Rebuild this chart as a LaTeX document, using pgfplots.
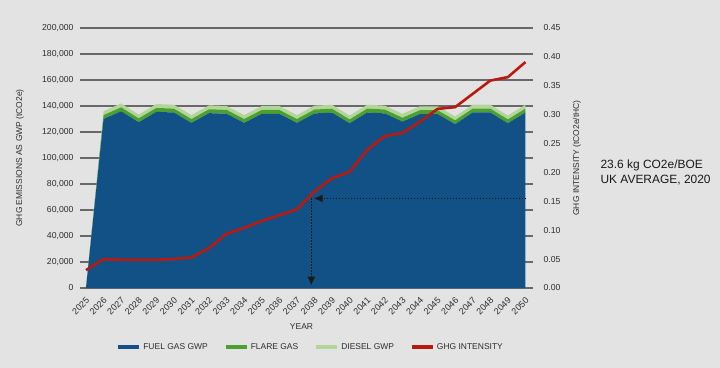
\documentclass[border=0pt]{standalone}
\usepackage{pgfplots}
\pgfplotsset{compat=1.18}
\usepackage{pgfplotstable}
\usepackage{fontspec}
\setmainfont{Liberation Sans}
\usetikzlibrary{arrows.meta}
\definecolor{bg}{RGB}{227,227,227}
\definecolor{fuel}{RGB}{17,81,134}
\definecolor{flare}{RGB}{76,160,50}
\definecolor{diesel}{RGB}{178,214,152}
\definecolor{ghg}{RGB}{185,25,15}
\definecolor{gridc}{RGB}{105,105,105}
\definecolor{txt}{RGB}{45,45,45}

\pgfplotstableread{
year fuel flare diesel
2025 0 0 0
2026 130000 3000 3000
2027 136000 3000 3000
2028 127500 3000 3000
2029 135500 3000 3000
2030 135000 3000 3000
2031 127000 3000 3000
2032 134500 3000 3000
2033 134000 3000 3000
2034 127000 3000 3000
2035 134000 3000 3000
2036 134000 3000 3000
2037 127000 3000 3000
2038 134300 3000 3000
2039 134900 3000 3000
2040 126700 3000 3000
2041 135000 3000 3000
2042 134300 3000 3000
2043 128000 3000 3000
2044 133800 3000 3000
2045 133800 3000 3000
2046 126000 3000 3000
2047 135000 3000 3000
2048 135000 3000 3000
2049 126700 3000 3000
2050 135000 3000 3000
}\emissions

\pgfplotstableread{
year intensity
2025 0.031
2026 0.050
2027 0.049
2028 0.049
2029 0.049
2030 0.050
2031 0.053
2032 0.069
2033 0.094
2034 0.104
2035 0.116
2036 0.126
2037 0.136
2038 0.167
2039 0.190
2040 0.201
2041 0.239
2042 0.263
2043 0.268
2044 0.288
2045 0.310
2046 0.313
2047 0.336
2048 0.359
2049 0.365
2050 0.391
}\intensity

\begin{document}
\begin{tikzpicture}
\useasboundingbox (0,0) rectangle (720bp,368bp);
\fill[bg] (0,0) rectangle (720bp,368bp);

\begin{axis}[
  at={(80bp,80bp)}, anchor=south west,
  scale only axis, width=453bp, height=260bp,
  xmin=2024.66, xmax=2050.43,
  ymin=0, ymax=200000,
  axis line style={draw=none},
  major tick length=0pt,
  xtick={2025,...,2050},
  xticklabels={2025,2026,2027,2028,2029,2030,2031,2032,2033,2034,2035,2036,2037,2038,2039,2040,2041,2042,2043,2044,2045,2046,2047,2048,2049,2050},
  xticklabel style={rotate=45, anchor=east, font=\fontsize{9}{10}\selectfont, text=txt, yshift=-9bp, xshift=-3bp},
  ytick={0,20000,40000,60000,80000,100000,120000,140000,160000,180000,200000},
  yticklabels={0,{20,000},{40,000},{60,000},{80,000},{100,000},{120,000},{140,000},{160,000},{180,000},{200,000}},
  scaled y ticks=false,
  yticklabel style={font=\fontsize{8.7}{10}\selectfont, text=txt, xshift=-3bp},
  ymajorgrids,
  grid style={gridc, line width=1.2bp},
  ylabel={GHG EMISSIONS AS GWP (tCO2e)},
  ylabel style={at={(axis description cs:-0.1325,0.5)}, anchor=center, font=\fontsize{8.5}{10}\selectfont, text=txt},
  xlabel={YEAR},
  xlabel style={at={(axis description cs:0.489,-0.149)}, anchor=center, font=\fontsize{8.5}{10}\selectfont, text=txt},
  stack plots=y,
  clip=false,
]
\addplot[fill=fuel, draw=none] table[x=year, y=fuel] {\emissions} \closedcycle;
\addplot[fill=flare, draw=none] table[x=year, y=flare] {\emissions} \closedcycle;
\addplot[fill=diesel, draw=none] table[x=year, y=diesel] {\emissions} \closedcycle;
\end{axis}

\begin{axis}[
  at={(80bp,80bp)}, anchor=south west,
  scale only axis, width=453bp, height=260bp,
  xmin=2024.66, xmax=2050.43,
  ymin=0, ymax=0.45,
  axis y line*=right,
  axis line style={draw=none},
  hide x axis,
  major tick length=0pt,
  ytick={0,0.05,0.10,0.15,0.20,0.25,0.30,0.35,0.40,0.45},
  yticklabels={0.00,0.05,0.10,0.15,0.20,0.25,0.30,0.35,0.40,0.45},
  scaled y ticks=false,
  yticklabel style={font=\fontsize{8.7}{10}\selectfont, text=txt, xshift=7bp},
  ylabel={GHG INTENSITY (tCO2e/tHC)},
  ylabel style={at={(axis description cs:1.097,0.5)}, anchor=center, font=\fontsize{8.5}{10}\selectfont, text=txt},
  legend columns=4,
  legend style={at={(axis description cs:0.509,-0.227)}, anchor=center, draw=none, fill=none,
    font=\fontsize{8.5}{10}\selectfont, text=txt,
    /tikz/every even column/.append style={column sep=14bp}},
  legend image code/.code={\draw[#1] (0bp,0bp) -- (21bp,0bp);},
  clip=false,
]
\addlegendimage{fuel, line width=4bp}
\addlegendentry{FUEL GAS GWP}
\addlegendimage{flare, line width=4bp}
\addlegendentry{FLARE GAS}
\addlegendimage{diesel, line width=4bp}
\addlegendentry{DIESEL GWP}
\addlegendimage{ghg, line width=4bp}
\addlegendentry{GHG INTENSITY}
\addplot[ghg, line width=2.6bp, line join=round, forget plot] table[x=year, y=intensity] {\intensity};
\addplot[black!90, line width=1.6bp, dash pattern=on 1.4bp off 1.6bp, -{Latex[length=9bp,width=8bp]}, forget plot] coordinates {(2050.05,0.155) (2037.95,0.155)};
\addplot[black!90, line width=1.6bp, dash pattern=on 1.4bp off 1.6bp, -{Latex[length=9bp,width=8bp]}, forget plot] coordinates {(2037.82,0.155) (2037.82,0.004)};
\end{axis}

\node[anchor=west, font=\fontsize{12}{15}\selectfont, text=black!90, align=left] at (597bp,195.5bp) {23.6 kg CO2e/BOE\\UK AVERAGE, 2020};
\end{tikzpicture}
\end{document}
